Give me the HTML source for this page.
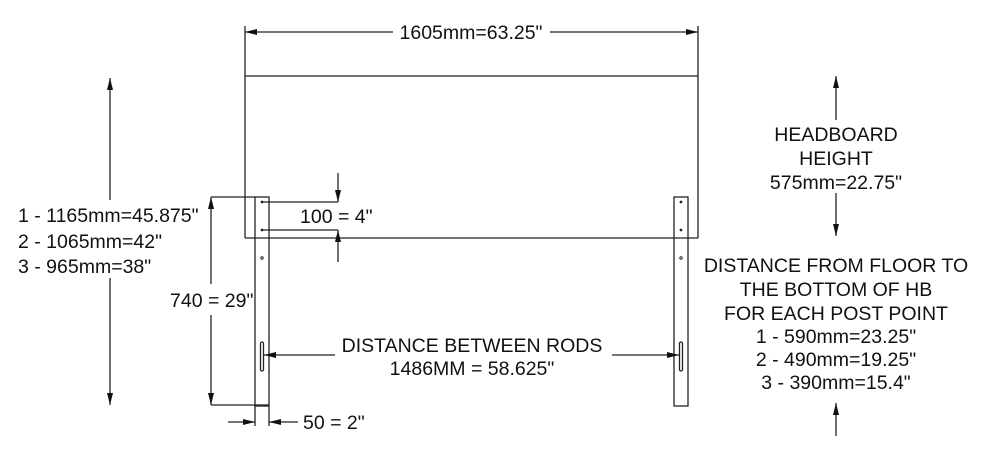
<!DOCTYPE html>
<html><head><style>body{margin:0;background:#fff}svg{display:block}text{font-family:"Liberation Sans",Arial,sans-serif;fill:#111}</style></head><body>
<svg width="990" height="454" viewBox="0 0 990 454" xmlns="http://www.w3.org/2000/svg">
<defs><marker id="a" viewBox="0 0 12 6" refX="12" refY="3" markerWidth="12" markerHeight="6" orient="auto-start-reverse" markerUnits="userSpaceOnUse"><path d="M0,0L12,3L0,6z" fill="#111"/></marker></defs>
<g stroke="#222" stroke-width="1.3" fill="none">
<line x1="245" y1="26" x2="245" y2="238"/><line x1="698" y1="26" x2="698" y2="238"/>
<line x1="245" y1="76" x2="698" y2="76"/><line x1="245" y1="238" x2="698" y2="238"/>
<line x1="245" y1="32" x2="393" y2="32" marker-start="url(#a)"/><line x1="550" y1="32" x2="698" y2="32" marker-end="url(#a)"/>
<rect x="255" y="197" width="14" height="209"/>
<rect x="674" y="197" width="14" height="209"/>
<rect x="260.5" y="342" width="3" height="29" rx="1.5"/>
<rect x="679.5" y="342" width="3" height="29" rx="1.5"/>
<line x1="211" y1="197" x2="255" y2="197"/><line x1="211" y1="405" x2="269" y2="405"/>
<line x1="211" y1="197" x2="211" y2="284" marker-start="url(#a)"/><line x1="211" y1="315" x2="211" y2="405" marker-end="url(#a)"/>
<line x1="262" y1="202" x2="338" y2="202"/><line x1="262" y1="230" x2="338" y2="230"/>
<line x1="338" y1="173" x2="338" y2="202" marker-end="url(#a)"/><line x1="338" y1="230" x2="338" y2="262" marker-start="url(#a)"/>
<line x1="255" y1="406" x2="255" y2="426"/><line x1="269" y1="406" x2="269" y2="426"/>
<line x1="228" y1="422" x2="255" y2="422" marker-end="url(#a)"/><line x1="269" y1="422" x2="298" y2="422" marker-start="url(#a)"/>
<line x1="264" y1="355" x2="335" y2="355" marker-start="url(#a)"/><line x1="612" y1="355" x2="679" y2="355" marker-end="url(#a)"/>
<line x1="110" y1="78" x2="110" y2="200" marker-start="url(#a)"/><line x1="110" y1="278" x2="110" y2="405" marker-end="url(#a)"/>
<line x1="836" y1="76" x2="836" y2="120" marker-start="url(#a)"/><line x1="836" y1="193" x2="836" y2="236" marker-end="url(#a)"/>
<line x1="836" y1="403" x2="836" y2="436" marker-start="url(#a)"/>
</g>
<g fill="#222"><circle cx="262" cy="202" r="1.4"/><circle cx="262" cy="230" r="1.4"/><circle cx="262" cy="258" r="1.2" fill="none" stroke="#222"/>
<circle cx="681" cy="202" r="1.4"/><circle cx="681" cy="230" r="1.4"/><circle cx="681" cy="258" r="1.2" fill="none" stroke="#222"/></g>
<g font-size="19.5">
<text x="471" y="39" text-anchor="middle">1605mm=63.25"</text>
<text x="18" y="222">1 - 1165mm=45.875"</text>
<text x="18" y="248">2 - 1065mm=42"</text>
<text x="18" y="273">3 - 965mm=38"</text>
<text x="170" y="307">740 = 29"</text>
<text x="300" y="223">100 = 4"</text>
<text x="303" y="429">50 = 2"</text>
<text x="472" y="352" text-anchor="middle">DISTANCE BETWEEN RODS</text>
<text x="472" y="375" text-anchor="middle">1486MM = 58.625"</text>
<g text-anchor="middle">
<text x="836" y="141">HEADBOARD</text>
<text x="836" y="165">HEIGHT</text>
<text x="836" y="189">575mm=22.75"</text>
<text x="836" y="272">DISTANCE FROM FLOOR TO</text>
<text x="836" y="296">THE BOTTOM OF HB</text>
<text x="836" y="320">FOR EACH POST POINT</text>
<text x="836" y="343">1 - 590mm=23.25"</text>
<text x="836" y="366">2 - 490mm=19.25"</text>
<text x="836" y="389">3 - 390mm=15.4"</text>
</g></g>
</svg>
</body></html>
